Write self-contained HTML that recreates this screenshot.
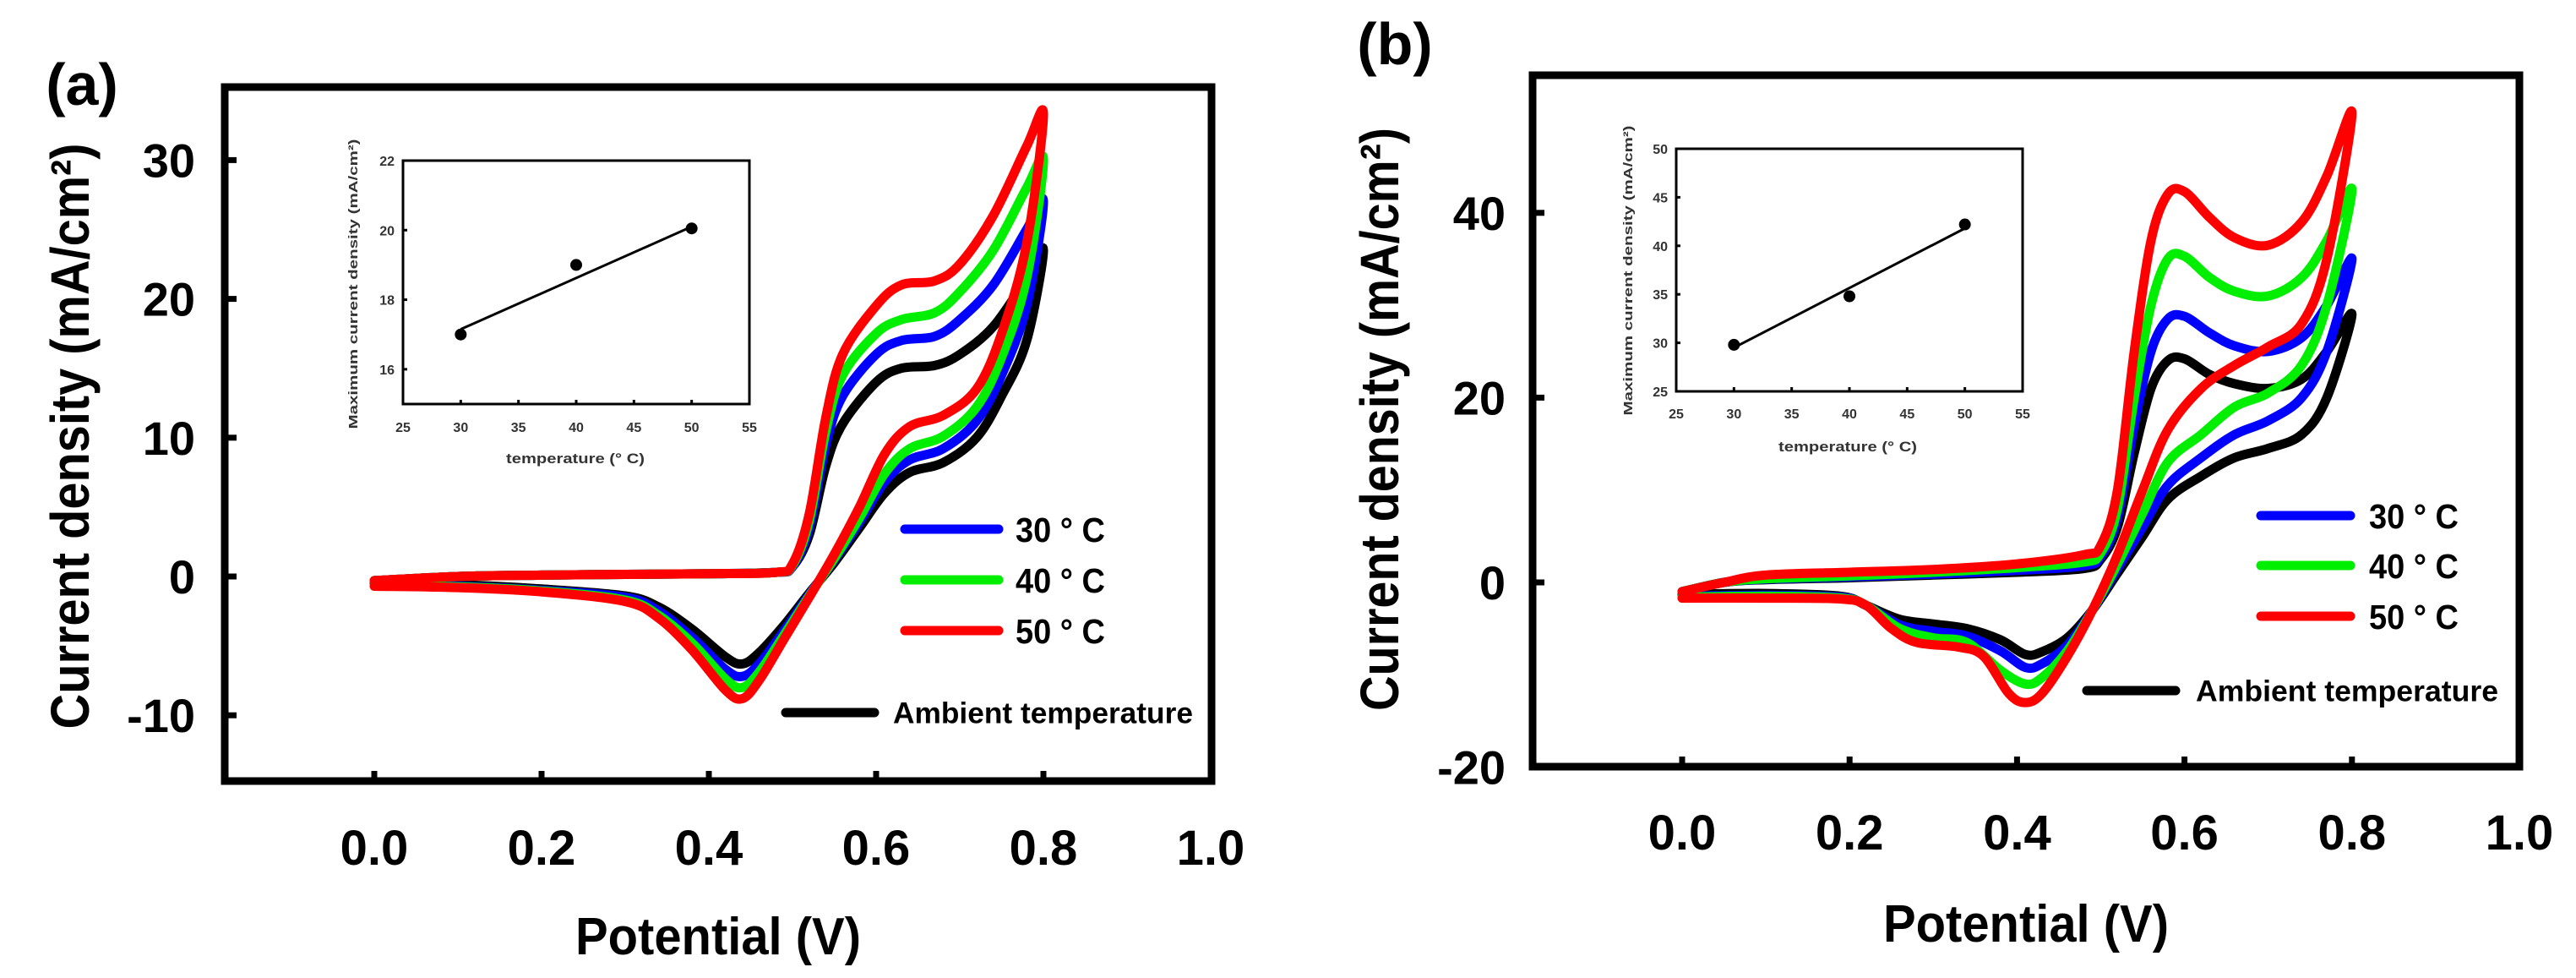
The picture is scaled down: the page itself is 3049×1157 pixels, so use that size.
<!DOCTYPE html>
<html><head><meta charset="utf-8">
<style>
html,body{margin:0;padding:0;background:#fff;}
svg{display:block;font-family:"Liberation Sans",sans-serif;}
</style></head>
<body>
<svg id="fig" width="3049" height="1157" viewBox="0 0 3049 1157" xmlns="http://www.w3.org/2000/svg">
<rect x="0" y="0" width="3049" height="1157" fill="#fff"/>
<g id="pa"></g>
<g id="pb"></g>
</svg>
<script>
// ---------- Panel (a) data ----------
const aSeriesNames = ["ambient","30C","40C","50C"];
const aColors = ["#000","#0000ff","#00ee00","#ff0000"];
const aFwdBlack = [[0,-0.3],[0.1,0],[0.2,0.1],[0.3,0.15],[0.4,0.2],[0.48,0.3],[0.5,0.7],[0.52,3],[0.54,8],[0.56,11],[0.6,14],[0.63,15],[0.67,15.2],[0.7,16],[0.74,18],[0.78,21.5],[0.8,23.5]];
const aFwdBlue = [[0,-0.3],[0.1,0],[0.2,0.1],[0.3,0.15],[0.4,0.2],[0.48,0.3],[0.5,0.7],[0.52,3.5],[0.54,9.5],[0.56,13],[0.6,16],[0.63,17],[0.67,17.3],[0.7,18.5],[0.74,21],[0.78,25],[0.8,27]];
const aFwdGreen = [[0,-0.3],[0.1,0],[0.2,0.1],[0.3,0.15],[0.4,0.2],[0.48,0.3],[0.5,0.8],[0.52,4],[0.54,10.5],[0.56,14.5],[0.6,17.5],[0.63,18.5],[0.67,19],[0.7,20.5],[0.74,23.5],[0.78,28],[0.8,30]];
const aFwdRed = [[0,-0.3],[0.1,0],[0.2,0.1],[0.3,0.15],[0.4,0.2],[0.48,0.3],[0.5,0.9],[0.52,4.5],[0.54,11.5],[0.56,16],[0.6,19.5],[0.63,21],[0.67,21.3],[0.7,22.5],[0.74,26],[0.78,31],[0.8,33.3]];
const aRevBlack = [[0.8,23.5],[0.78,17],[0.75,13],[0.72,10],[0.68,8.2],[0.64,7.5],[0.61,6],[0.58,3.5],[0.55,1],[0.52,-1.2],[0.49,-3.5],[0.46,-5.5],[0.44,-6.3],[0.42,-5.8],[0.38,-3.8],[0.34,-2.2],[0.3,-1.4],[0.2,-0.9],[0.1,-0.6],[0,-0.5]];
const aRevBlue = [[0.8,27],[0.78,19.5],[0.75,14.5],[0.72,11.2],[0.68,9.2],[0.64,8.4],[0.61,6.8],[0.58,3.9],[0.55,1.2],[0.52,-1.3],[0.49,-3.9],[0.46,-6.3],[0.44,-7.2],[0.42,-6.7],[0.38,-4.4],[0.34,-2.5],[0.3,-1.5],[0.2,-1],[0.1,-0.7],[0,-0.6]];
const aRevGreen = [[0.8,30],[0.78,21.5],[0.75,15.8],[0.72,12.2],[0.68,10.1],[0.64,9.2],[0.61,7.4],[0.58,4.2],[0.55,1.3],[0.52,-1.4],[0.49,-4.2],[0.46,-6.9],[0.44,-8],[0.42,-7.4],[0.38,-4.8],[0.34,-2.8],[0.3,-1.7],[0.2,-1.05],[0.1,-0.75],[0,-0.65]];
const aRevRed = [[0.8,33.3],[0.78,24],[0.75,17.5],[0.72,13.5],[0.68,11.6],[0.64,10.8],[0.61,8.8],[0.58,5],[0.55,1.6],[0.52,-1.5],[0.49,-4.5],[0.46,-7.5],[0.44,-8.8],[0.42,-8.2],[0.38,-5.3],[0.34,-3],[0.3,-1.8],[0.2,-1.1],[0.1,-0.8],[0,-0.7]];
const aXTicks = [0.0,0.2,0.4,0.6,0.8,1.0];
const aXTickLabels = ["0.0","0.2","0.4","0.6","0.8","1.0"];
const aYTicks = [30,20,10,0,-10];
const aYTickLabels = ["30","20","10","0","-10"];
const aInsetT = [30,40,50];
const aInsetJ = [17,19,20.05];
const aInsetFit = [[30,17.15],[50,20.1]];
const aInsetXTicks = [25,30,35,40,45,50,55];
const aInsetYTicks = [16,18,20,22];

// ---------- Panel (b) data ----------
const bFwdBlack = [[0,-1],[0.05,0],[0.1,0.3],[0.2,0.5],[0.3,0.8],[0.4,1.1],[0.48,1.5],[0.5,2.5],[0.52,6],[0.54,14],[0.56,21],[0.58,24],[0.6,24.2],[0.63,22.5],[0.66,21.5],[0.7,21],[0.74,22],[0.77,25],[0.8,29]];
const bFwdBlue = [[0,-1],[0.05,0],[0.1,0.35],[0.2,0.6],[0.3,0.9],[0.4,1.3],[0.48,1.8],[0.5,2.8],[0.52,7],[0.54,17],[0.56,25],[0.58,28.5],[0.6,28.8],[0.63,27],[0.66,25.6],[0.7,25],[0.74,26.5],[0.77,30],[0.8,35]];
const bFwdGreen = [[0,-1],[0.05,0],[0.1,0.4],[0.2,0.7],[0.3,1.1],[0.4,1.6],[0.48,2.2],[0.5,3.2],[0.52,8],[0.54,20],[0.56,30],[0.58,35],[0.6,35.3],[0.63,33],[0.66,31.5],[0.7,31],[0.74,33],[0.77,37],[0.8,42.5]];
const bFwdRed = [[0,-1],[0.05,0],[0.1,0.8],[0.2,1.1],[0.3,1.4],[0.4,2],[0.48,3],[0.5,4],[0.52,10],[0.54,25],[0.56,37],[0.58,42],[0.6,42.3],[0.63,39.5],[0.66,37.3],[0.7,36.5],[0.74,39],[0.77,44],[0.8,50.8]];
const bRevBlack = [[0.8,29],[0.77,20],[0.74,16],[0.7,14.5],[0.66,13.5],[0.62,11.5],[0.58,9],[0.55,5],[0.52,1],[0.49,-3],[0.46,-6],[0.43,-7.5],[0.41,-7.8],[0.38,-6.2],[0.34,-5],[0.3,-4.5],[0.26,-4],[0.22,-2.5],[0.19,-1.5],[0.1,-1.2],[0,-1.3]];
const bRevBlue = [[0.8,35],[0.77,25],[0.74,20],[0.7,17.5],[0.66,16],[0.62,13.5],[0.58,10.5],[0.55,6],[0.52,1.5],[0.49,-3],[0.46,-6.8],[0.43,-8.8],[0.41,-9.2],[0.38,-7.4],[0.34,-5.8],[0.3,-5.3],[0.26,-4.6],[0.22,-2.5],[0.19,-1.6],[0.1,-1.4],[0,-1.5]];
const bRevGreen = [[0.8,42.5],[0.77,30],[0.74,23.5],[0.7,20.5],[0.66,19],[0.62,16],[0.58,13],[0.55,7.5],[0.52,2],[0.49,-3],[0.46,-7.4],[0.43,-10.3],[0.41,-11],[0.38,-9.5],[0.34,-6.5],[0.3,-6],[0.26,-5],[0.22,-2.5],[0.19,-1.7],[0.1,-1.5],[0,-1.6]];
const bRevRed = [[0.8,50.8],[0.77,35],[0.74,28],[0.7,25.5],[0.66,23.5],[0.62,21],[0.58,16.5],[0.55,10],[0.52,3],[0.49,-3],[0.46,-8],[0.43,-12],[0.41,-13],[0.39,-12],[0.36,-8],[0.33,-7],[0.28,-6.5],[0.25,-5],[0.22,-2.5],[0.19,-1.8],[0.1,-1.7],[0,-1.7]];
const bXTicks = [0.0,0.2,0.4,0.6,0.8,1.0];
const bXTickLabels = ["0.0","0.2","0.4","0.6","0.8","1.0"];
const bYTicks = [40,20,0,-20];
const bYTickLabels = ["40","20","0","-20"];
const bInsetT = [30,40,50];
const bInsetJ = [29.8,34.8,42.2];
const bInsetFit = [[30,29.5],[50,41.8]];
const bInsetXTicks = [25,30,35,40,45,50,55];
const bInsetYTicks = [25,30,35,40,45,50];

const NS = "http://www.w3.org/2000/svg";
function mk(parent, tag, attrs, text){
  const e = document.createElementNS(NS, tag);
  for (const k in attrs) e.setAttribute(k, attrs[k]);
  if (text !== undefined) e.textContent = text;
  parent.appendChild(e);
  return e;
}
function smoothPath(pts){
  let d = "M" + pts[0][0].toFixed(1) + "," + pts[0][1].toFixed(1);
  for (let i = 0; i < pts.length - 1; i++){
    const p0 = pts[i-1] || pts[i], p1 = pts[i], p2 = pts[i+1], p3 = pts[i+2] || pts[i+1];
    const c1x = p1[0] + (p2[0]-p0[0])/6, c1y = p1[1] + (p2[1]-p0[1])/6;
    const c2x = p2[0] - (p3[0]-p1[0])/6, c2y = p2[1] - (p3[1]-p1[1])/6;
    d += " C" + c1x.toFixed(1)+","+c1y.toFixed(1)+" "+c2x.toFixed(1)+","+c2y.toFixed(1)+" "+p2[0].toFixed(1)+","+p2[1].toFixed(1);
  }
  return d;
}

function drawPanel(g, cfg){
  const X = v => cfg.x0 + (v - cfg.vmin) * cfg.xs;
  const Y = j => cfg.y0 - j * cfg.ys;
  // label
  const lab = mk(g, "text", {x: cfg.labX, y: cfg.labY, "font-size": 70, "font-weight": "bold", "text-anchor": "middle"}, cfg.label);
  
  
  // curves
  const cg = mk(g, "g", {});
  
  
  cfg.series.forEach((s, i) => {
    const pts = s.fwd.concat(s.rev.slice(1)).map(p => [X(p[0]), Y(p[1])]);
    const p = mk(cg, "path", {d: smoothPath(pts), fill: "none", stroke: s.color, "stroke-width": 11, "stroke-linejoin": "round", "stroke-linecap": "round"});
    
    
  });
  // frame
  const fr = mk(g, "rect", {x: cfg.fx0, y: cfg.fy0, width: cfg.fx1 - cfg.fx0, height: cfg.fy1 - cfg.fy0, fill: "none", stroke: "#000", "stroke-width": 9});
  
  
  // x ticks
  cfg.xTicks.forEach((v, i) => {
    const t = mk(g, "line", {x1: X(v), x2: X(v), y1: cfg.fy1, y2: cfg.fy1 - 12, stroke: "#000", "stroke-width": 7});
    
    
    const l = mk(g, "text", {x: X(v), y: cfg.xLabY, "font-size": 58, "font-weight": "bold", "text-anchor": "middle"}, cfg.xTickLabels[i]);
    
    
  });
  cfg.yTicks.forEach((v, i) => {
    const t = mk(g, "line", {x1: cfg.fx0, x2: cfg.fx0 + 14, y1: Y(v), y2: Y(v), stroke: "#000", "stroke-width": 7});
    
    
    const l = mk(g, "text", {x: cfg.yLabX, y: Y(v) + 20, "font-size": 56, "font-weight": "bold", "text-anchor": "end"}, cfg.yTickLabels[i]);
    
    
  });
  // axis titles
  const xt = mk(g, "text", {x: cfg.xtX, y: cfg.xtY + 22, "font-size": 62, "font-weight": "bold", "text-anchor": "middle", textLength: cfg.xtLen, lengthAdjust: "spacingAndGlyphs"}, "Potential (V)");
  
  
  const yt = mk(g, "text", {x: 0, y: 0, "font-size": 64, "font-weight": "bold", "text-anchor": "middle", textLength: cfg.ytLen, lengthAdjust: "spacingAndGlyphs", transform: "translate(" + (cfg.ytX + 22) + "," + cfg.ytY + ") rotate(-90)"}, "Current density (mA/cm²)");
  
  
  // legend
  const lg = mk(g, "g", {});
  
  
  cfg.legend.forEach(e => {
    const ln = mk(lg, "line", {x1: e.x1, x2: e.x2, y1: e.y, y2: e.y, stroke: e.color, "stroke-width": 11, "stroke-linecap": "round"});
    
    
    const tx = mk(lg, "text", {x: e.tx, y: e.y + e.fs * 0.36, "font-size": e.fs, "font-weight": "bold", textLength: e.tl, lengthAdjust: "spacingAndGlyphs"}, e.text);
    
    
  });
  // inset
  const ins = cfg.inset;
  const ig = mk(g, "g", {});
  
  
  const IX = t => ins.x0 + (t - ins.tmin) / (ins.tmax - ins.tmin) * (ins.x1 - ins.x0);
  const IY = j => ins.y1 - (j - ins.jmin) / (ins.jmax - ins.jmin) * (ins.y1 - ins.y0);
  const ib = mk(ig, "rect", {x: ins.x0, y: ins.y0, width: ins.x1 - ins.x0, height: ins.y1 - ins.y0, fill: "none", stroke: "#000", "stroke-width": 3});
  
  
  ins.xTicks.forEach(t => {
    const tk = mk(ig, "line", {x1: IX(t), x2: IX(t), y1: ins.y1, y2: ins.y1 - 5, stroke: "#000", "stroke-width": 3});
    
    
    const l = mk(ig, "text", {x: IX(t), y: ins.xLabY + 6, "font-size": 16, "font-weight": "bold", fill: "#333", "text-anchor": "middle"}, String(t));
    
    
  });
  ins.yTicks.forEach(j => {
    const tk = mk(ig, "line", {x1: ins.x0, x2: ins.x0 + 5, y1: IY(j), y2: IY(j), stroke: "#000", "stroke-width": 3});
    
    
    const l = mk(ig, "text", {x: ins.x0 - 10, y: IY(j) + 6, "font-size": 16, "font-weight": "bold", fill: "#333", "text-anchor": "end"}, String(j));
    
    
  });
  const fit = mk(ig, "line", {x1: IX(ins.fit[0][0]), y1: IY(ins.fit[0][1]), x2: IX(ins.fit[1][0]), y2: IY(ins.fit[1][1]), stroke: "#000", "stroke-width": 3});
  
  
  ins.t.forEach((t, i) => {
    const c = mk(ig, "circle", {cx: IX(t), cy: IY(ins.j[i]), r: 7, fill: "#000"});
    
    
  });
  const ixt = mk(ig, "text", {x: ins.xtX, y: ins.xtY + 6, "font-size": 17, "font-weight": "bold", fill: "#333", "text-anchor": "middle", textLength: ins.xtLen, lengthAdjust: "spacingAndGlyphs"}, "temperature (° C)");
  
  
  const iyt = mk(ig, "text", {x: 0, y: 0, "font-size": 15, "font-weight": "bold", fill: "#333", "text-anchor": "middle", textLength: ins.ytLen, lengthAdjust: "spacingAndGlyphs", transform: "translate(" + (ins.ytX + 5) + "," + ins.ytY + ") rotate(-90)"}, "Maximum current density (mA/cm²)");
  
  
}

drawPanel(document.getElementById("pa"), {
  label: "(a)", labX: 97, labY: 124,
  x0: 443, vmin: 0, xs: 990, y0: 682, ys: 16.42,
  fx0: 266, fx1: 1434, fy0: 103, fy1: 924,
  xTicks: aXTicks, xTickLabels: aXTickLabels, yTicks: aYTicks, yTickLabels: aYTickLabels,
  xLabY: 1023, yLabX: 231,
  xtX: 850, xtY: 1107, xtLen: 338, ytX: 83, ytY: 516, ytLen: 693,
  series: [
    {name: "ambient", color: aColors[0], fwd: aFwdBlack, rev: aRevBlack},
    {name: "30c", color: aColors[1], fwd: aFwdBlue, rev: aRevBlue},
    {name: "40c", color: aColors[2], fwd: aFwdGreen, rev: aRevGreen},
    {name: "50c", color: aColors[3], fwd: aFwdRed, rev: aRevRed}
  ],
  legend: [
    {x1: 1071, x2: 1182, y: 626, color: "#0000ff", tx: 1202, text: "30 ° C", fs: 41, tl: 106},
    {x1: 1071, x2: 1182, y: 686, color: "#00ee00", tx: 1202, text: "40 ° C", fs: 41, tl: 106},
    {x1: 1071, x2: 1182, y: 746, color: "#ff0000", tx: 1202, text: "50 ° C", fs: 41, tl: 106},
    {x1: 930, x2: 1035, y: 843, color: "#000", tx: 1057, text: "Ambient temperature", fs: 35, tl: 355}
  ],
  inset: {x0: 477, x1: 887, y0: 190, y1: 478, tmin: 25, tmax: 55, jmin: 15, jmax: 22,
    xTicks: aInsetXTicks, yTicks: aInsetYTicks, t: aInsetT, j: aInsetJ, fit: aInsetFit,
    xLabY: 505, xtX: 681, xtY: 542, xtLen: 164, ytX: 418, ytY: 336, ytLen: 343}
});

drawPanel(document.getElementById("pb"), {
  label: "(b)", labX: 1651, labY: 76,
  x0: 1991, vmin: 0, xs: 991, y0: 689, ys: 10.93,
  fx0: 1814, fx1: 2982, fy0: 89, fy1: 907,
  xTicks: bXTicks, xTickLabels: bXTickLabels, yTicks: bYTicks, yTickLabels: bYTickLabels,
  xLabY: 1005, yLabX: 1782,
  xtX: 2398, xtY: 1092, xtLen: 338, ytX: 1633, ytY: 496, ytLen: 690,
  series: [
    {name: "ambient", color: aColors[0], fwd: bFwdBlack, rev: bRevBlack},
    {name: "30c", color: aColors[1], fwd: bFwdBlue, rev: bRevBlue},
    {name: "40c", color: aColors[2], fwd: bFwdGreen, rev: bRevGreen},
    {name: "50c", color: aColors[3], fwd: bFwdRed, rev: bRevRed}
  ],
  legend: [
    {x1: 2676, x2: 2782, y: 610, color: "#0000ff", tx: 2804, text: "30 ° C", fs: 41, tl: 106},
    {x1: 2676, x2: 2782, y: 669, color: "#00ee00", tx: 2804, text: "40 ° C", fs: 41, tl: 106},
    {x1: 2676, x2: 2782, y: 729, color: "#ff0000", tx: 2804, text: "50 ° C", fs: 41, tl: 106},
    {x1: 2470, x2: 2575, y: 817, color: "#000", tx: 2599, text: "Ambient temperature", fs: 35, tl: 358}
  ],
  inset: {x0: 1984, x1: 2394, y0: 176, y1: 463, tmin: 25, tmax: 55, jmin: 25, jmax: 50,
    xTicks: bInsetXTicks, yTicks: bInsetYTicks, t: bInsetT, j: bInsetJ, fit: bInsetFit,
    xLabY: 489, xtX: 2187, xtY: 528, xtLen: 164, ytX: 1927, ytY: 320, ytLen: 343}
});
</script>
</body></html>
